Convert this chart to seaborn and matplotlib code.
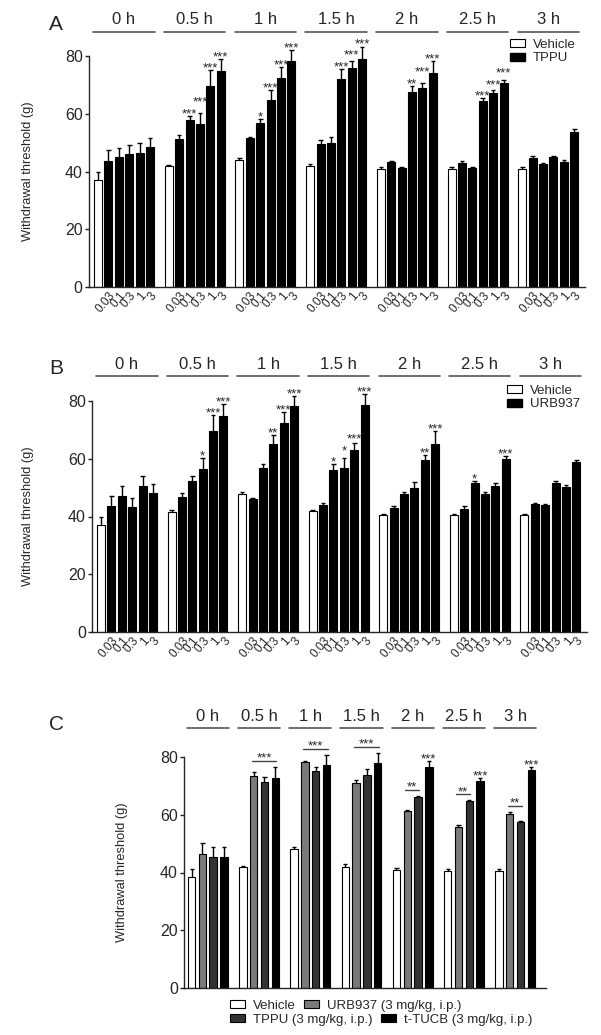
import numpy as np
import pandas as pd
import matplotlib
matplotlib.use("Agg")
import matplotlib.pyplot as plt
import seaborn as sns
from matplotlib.patches import Patch

# -----------------------------
# Data
# -----------------------------
times = ["0 h", "0.5 h", "1 h", "1.5 h", "2 h", "2.5 h", "3 h"]
doses = ["0.03", "0.1", "0.3", "1", "3"]

# Panel A: TPPU dose response
A_veh = [37.1, 41.8, 44.0, 41.8, 40.8, 40.8, 40.8]
A_veh_sem = [2.7, 0.5, 0.8, 0.8, 0.6, 0.6, 0.6]
A_drug = [
    [43.8, 44.9, 46.0, 46.3, 48.4],
    [51.3, 57.7, 56.5, 69.7, 74.7],
    [51.6, 56.8, 64.9, 72.5, 78.4],
    [49.6, 49.8, 72.0, 75.9, 78.8],
    [43.4, 41.3, 67.4, 69.0, 74.0],
    [42.9, 41.2, 64.3, 67.1, 70.8],
    [44.6, 42.5, 44.9, 43.3, 53.8],
]
A_drug_sem = [
    [3.7, 3.2, 3.2, 3.4, 3.1],
    [1.5, 1.6, 3.9, 5.3, 4.3],
    [0.3, 1.4, 3.3, 3.8, 3.8],
    [1.2, 2.1, 3.5, 2.5, 4.2],
    [0.4, 0.4, 2.2, 1.8, 4.4],
    [0.8, 0.4, 1.1, 1.1, 0.9],
    [0.7, 0.5, 0.6, 0.7, 0.9],
]
A_stars = [
    ["", "", "", "", ""],
    ["", "***", "***", "***", "***"],
    ["", "*", "***", "***", "***"],
    ["", "", "***", "***", "***"],
    ["", "", "**", "***", "***"],
    ["", "", "***", "***", "***"],
    ["", "", "", "", ""],
]

# Panel B: URB937 dose response
B_veh = [36.9, 41.5, 47.9, 41.8, 40.4, 40.4, 40.4]
B_veh_sem = [2.9, 0.6, 0.7, 0.6, 0.6, 0.6, 0.6]
B_drug = [
    [43.7, 47.2, 43.3, 50.7, 48.2],
    [46.7, 52.4, 56.4, 69.6, 74.7],
    [45.9, 56.9, 65.0, 72.5, 78.4],
    [43.9, 56.2, 56.9, 62.9, 78.7],
    [43.0, 47.9, 49.9, 59.7, 65.2],
    [42.7, 51.6, 47.7, 50.7, 60.0],
    [44.2, 44.1, 51.6, 50.3, 58.9],
]
B_drug_sem = [
    [3.5, 3.2, 3.2, 3.4, 3.2],
    [1.4, 1.6, 3.9, 5.4, 4.4],
    [0.4, 1.2, 3.3, 3.7, 3.3],
    [0.9, 1.9, 3.5, 2.6, 3.8],
    [0.5, 0.6, 2.0, 1.7, 4.4],
    [0.8, 0.6, 0.8, 1.0, 1.0],
    [0.6, 0.3, 0.7, 0.6, 0.5],
]
B_stars = [
    ["", "", "", "", ""],
    ["", "", "*", "***", "***"],
    ["", "", "**", "***", "***"],
    ["", "*", "*", "***", "***"],
    ["", "", "", "**", "***"],
    ["", "*", "", "", "***"],
    ["", "", "", "", ""],
]

# Panel C: single dose comparison
C_groups = ["Vehicle", "URB937 (3 mg/kg, i.p.)", "TPPU (3 mg/kg, i.p.)", "t-TUCB (3 mg/kg, i.p.)"]
C_veh = [38.5, 41.8, 48.0, 42.0, 40.9, 40.5, 40.5]
C_veh_sem = [2.7, 0.6, 0.7, 0.8, 0.5, 0.6, 0.6]
C_urb = [46.4, 73.4, 78.2, 71.1, 61.3, 55.9, 60.3]
C_urb_sem = [3.7, 1.5, 0.3, 0.9, 0.3, 0.5, 0.7]
C_tppu = [45.5, 71.5, 75.2, 73.9, 66.3, 64.8, 57.6]
C_tppu_sem = [3.2, 1.5, 1.2, 1.8, 0.3, 0.3, 0.3]
C_ttucb = [45.5, 72.8, 77.3, 77.8, 76.4, 71.7, 75.5]
C_ttucb_sem = [3.2, 3.9, 3.5, 3.6, 2.2, 0.9, 0.9]
C_bracket = ["", "***", "***", "***", "**", "**", "**"]     # line from URB937 to last bar
C_bracket_end = [0, 3, 3, 3, 2, 2, 2]
C_top_stars = ["", "", "", "", "***", "***", "***"]        # above t-TUCB

# -----------------------------
# Style
# -----------------------------
sns.set_style("ticks")
plt.rcParams["font.family"] = ["Liberation Sans", "DejaVu Sans"]
plt.rcParams["axes.linewidth"] = 1.0

W, H = 601, 1035
fig = plt.figure(figsize=(W / 100, H / 100), dpi=100)


def px_axes(left, top, right, bottom):
    return fig.add_axes([left / W, 1 - bottom / H, (right - left) / W, (bottom - top) / H])


def style_axes(ax):
    ax.set_ylim(0, 80)
    ax.set_yticks([0, 20, 40, 60, 80])
    ax.set_ylabel("")
    ax.set_xlabel("")
    sns.despine(ax=ax)
    ax.tick_params(axis="y", length=3, width=1, pad=1.5, labelsize=11.5, color="#222222")
    ax.tick_params(axis="x", length=0, pad=2)


def err_bars(ax, x, y, sem, cap=0.22):
    x = np.asarray(x, dtype=float)
    y = np.asarray(y, dtype=float)
    top = y + np.asarray(sem, dtype=float)
    ax.vlines(x, y, top, color="black", lw=1.0, clip_on=False, zorder=4)
    ax.hlines(top, x - cap, x + cap, color="black", lw=1.0, clip_on=False, zorder=4)


def star(ax, x, y, label, dy=-1):
    ax.annotate(label, (x, y), xytext=(0, dy), textcoords="offset points",
                ha="center", va="baseline", fontsize=9.5, annotation_clip=False)


def time_headers(ax, starts, nbars, line_y, text_y):
    for s, t in zip(starts, times):
        x0, x1 = s - 0.45, s + nbars - 1 + 0.45
        ax.plot([x0, x1], [line_y, line_y], color="#555555", lw=1.2, clip_on=False)
        ax.text((x0 + x1) / 2, text_y, t, ha="center", va="center", fontsize=12, clip_on=False)


def dose_panel(ax, veh, veh_sem, drug, drug_sem, stars, drug_name, line_y, text_y):
    gstep = 6.8
    rows = []
    for g in range(len(times)):
        rows.append((g * gstep, veh[g], veh_sem[g], "Vehicle", ""))
        for i in range(len(doses)):
            rows.append((g * gstep + i + 1, drug[g][i], drug_sem[g][i], drug_name, stars[g][i]))
    df = pd.DataFrame(rows, columns=["x", "y", "sem", "group", "stars"])
    sns.barplot(data=df, x="x", y="y", hue="group", hue_order=["Vehicle", drug_name],
                palette={"Vehicle": "white", drug_name: "black"}, native_scale=True,
                dodge=False, width=0.77, errorbar=None, edgecolor="black", linewidth=0.8,
                legend=False, ax=ax)
    err_bars(ax, df.x, df.y, df["sem"])
    # stars: step neighbouring labels upward so they don't sit on top of each other
    for g in range(len(times)):
        prev = None
        for i in range(len(doses)):
            lab = stars[g][i]
            if not lab:
                prev = None
                continue
            y = drug[g][i] + drug_sem[g][i]
            if prev is not None and y < prev + 4.0:
                y = prev + 4.0
            star(ax, g * gstep + i + 1, y, lab)
            prev = y
    style_axes(ax)
    ax.set_xlim(-0.87, 46.83)
    drug_rows = df[df.group == drug_name]
    ax.set_xticks(drug_rows.x)
    ax.set_xticklabels(doses * len(times), rotation=50, ha="right", va="top",
                       rotation_mode="anchor", fontsize=8.5)
    time_headers(ax, [g * gstep for g in range(len(times))], 6, line_y, text_y)


def side_legend(handles, left, top):
    fig.legend(handles=handles, loc="upper left", bbox_to_anchor=(left / W, 1 - top / H),
               frameon=False, fontsize=9.5, borderpad=0, borderaxespad=0, labelspacing=0.1,
               handlelength=1.15, handleheight=0.55, handletextpad=0.6)


# -----------------------------
# Panel A
# -----------------------------
axA = px_axes(89, 56, 585, 287)
dose_panel(axA, A_veh, A_veh_sem, A_drug, A_drug_sem, A_stars, "TPPU", 88.2, 92.5)
side_legend([Patch(facecolor="white", edgecolor="black", lw=0.8, label="Vehicle"),
             Patch(facecolor="black", edgecolor="black", label="TPPU")], 510, 39)
fig.text(56 / W, 1 - 25 / H, "A", fontsize=15, ha="center", va="center")
fig.text(28 / W, 1 - 171.5 / H, "Withdrawal threshold (g)", rotation=90,
         ha="center", va="center", fontsize=9.3)

# -----------------------------
# Panel B
# -----------------------------
axB = px_axes(92, 401, 587, 632)
dose_panel(axB, B_veh, B_veh_sem, B_drug, B_drug_sem, B_stars, "URB937", 88.7, 92.5)
side_legend([Patch(facecolor="white", edgecolor="black", lw=0.8, label="Vehicle"),
             Patch(facecolor="black", edgecolor="black", label="URB937")], 507, 385)
fig.text(56 / W, 1 - 368 / H, "B", fontsize=15, ha="center", va="center")
fig.text(28 / W, 1 - 516.5 / H, "Withdrawal threshold (g)", rotation=90,
         ha="center", va="center", fontsize=9.3)

# -----------------------------
# Panel C
# -----------------------------
axC = px_axes(184, 757, 546, 988)
gstepC = 4.74
c_means = [C_veh, C_urb, C_tppu, C_ttucb]
c_sems = [C_veh_sem, C_urb_sem, C_tppu_sem, C_ttucb_sem]
rowsC = []
for g in range(len(times)):
    for i, name in enumerate(C_groups):
        rowsC.append((g * gstepC + i, c_means[i][g], c_sems[i][g], name))
dfC = pd.DataFrame(rowsC, columns=["x", "y", "sem", "group"])
paletteC = dict(zip(C_groups, ["white", "#7a7a7a", "#333333", "black"]))
sns.barplot(data=dfC, x="x", y="y", hue="group", hue_order=C_groups, palette=paletteC,
            native_scale=True, dodge=False, width=0.7, errorbar=None, edgecolor="black",
            linewidth=0.8, legend=False, ax=axC)
err_bars(axC, dfC.x, dfC.y, dfC["sem"], cap=0.2)
for g in range(len(times)):
    base = g * gstepC
    if C_bracket[g]:
        end = C_bracket_end[g]
        tops = [c_means[i][g] + c_sems[i][g] for i in range(1, end + 1)]
        ly = max(tops) + 2.0
        axC.plot([base + 1 - 0.2, base + end + 0.1], [ly, ly], color="#444444", lw=1.0, clip_on=False)
        star(axC, base + 1 + (end - 1) / 2 - 0.05, ly, C_bracket[g], dy=-0.5)
    if C_top_stars[g]:
        star(axC, base + 3, C_ttucb[g] + C_ttucb_sem[g], C_top_stars[g])
style_axes(axC)
axC.set_xlim(-0.71, 32.8)
axC.set_xticks([])
time_headers(axC, [g * gstepC for g in range(len(times))], 4, 89.9, 94.0)

handlesC = [Patch(facecolor=paletteC[n], edgecolor="black", lw=0.8, label=n) for n in C_groups]
for row, top in [((0, 1), 1000), ((2, 3), 1014)]:
    fig.legend(handles=[handlesC[row[0]], handlesC[row[1]]], ncol=2, loc="upper left",
               bbox_to_anchor=(230 / W, 1 - top / H), frameon=False, fontsize=9.5,
               borderpad=0, borderaxespad=0, columnspacing=0.6,
               handlelength=1.15, handleheight=0.55, handletextpad=0.6)
fig.text(56 / W, 1 - 724 / H, "C", fontsize=15, ha="center", va="center")
fig.text(122 / W, 1 - 872.5 / H, "Withdrawal threshold (g)", rotation=90,
         ha="center", va="center", fontsize=9.3)

fig.savefig("out.png", dpi=100)
